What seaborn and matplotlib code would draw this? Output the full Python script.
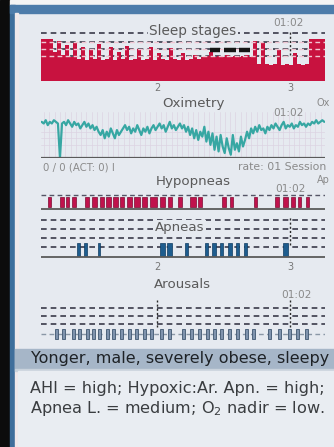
import numpy as np
import seaborn as sns
import matplotlib.pyplot as plt
from matplotlib.patches import Rectangle

# hypnogram: fill height per epoch (5 = wake ... ~2 = deep sleep)
hyp_levels = [4.9, 4.9, 4.9,
              3.4, 4.6, 3.0, 4.2, 2.8, 4.4,
              2.6, 4.0, 2.4, 3.6, 2.5, 4.3, 2.4, 2.6, 3.9, 2.4, 3.4,
              2.5, 4.1, 2.4, 2.6, 3.7, 2.4, 2.5, 4.0, 2.4, 3.2, 2.5, 2.4, 3.8, 2.5, 2.4, 3.3, 2.4, 2.5, 3.0, 2.6,
              2.8, 2.9, 3.4, 2.8, 2.9, 2.8, 3.0, 2.8, 2.9, 2.8, 2.9, 3.0, 2.8, 4.6,
              2.0, 4.4, 2.0, 1.9, 2.0, 3.6, 1.9, 2.0, 1.9, 3.2, 2.0, 1.9, 2.0,
              4.9, 4.9, 4.9, 4.9]
rem_start = [2.398, 2.504, 2.617]
rem_end = [2.474, 2.594, 2.699]

spo2 = [94, 93, 95, 92, 94, 93, 95, 94, 93,
        72, 93,
        94, 92, 95, 93, 91, 94, 92, 93, 90, 92, 94, 91, 93, 90, 92, 89, 91, 88,
        86, 89, 84, 88, 85, 90, 87, 84, 89, 86, 88, 90,
        92, 89, 91, 87, 90, 88, 92, 89, 86, 90, 88, 91, 87, 90, 92,
        89, 91, 93, 90, 92, 88, 91, 94, 90, 92, 89, 91, 93, 90, 92,
        88, 91, 86, 90, 84, 89, 83, 88, 85, 91, 82, 88,
        80, 87, 77, 85, 76, 86, 79, 75, 84, 78, 74, 86, 77, 81, 76, 85, 79, 83,
        88, 84, 90, 87, 91, 88, 92, 89, 90, 87, 91, 89,
        92, 90, 93, 91, 89, 92, 94, 90, 92, 91, 93, 90, 92, 91, 94, 92, 93, 91, 93, 92, 94, 93, 95, 93, 94, 95, 94]

hypop_start = [1.180, 1.271, 1.316, 1.361, 1.459, 1.511, 1.571, 1.617, 1.669, 1.722, 1.774, 1.827, 1.887, 1.947,
               2.023, 2.083, 2.158, 2.248, 2.308, 2.489, 2.549, 2.729, 2.887, 2.947, 3.008, 3.060, 3.120]
hypop_min = [1.4, 1.8, 1.4, 1.8, 1.8, 2.3, 1.8, 2.3, 2.3, 1.8, 2.3, 2.7, 2.3, 3.2,
             2.3, 1.8, 1.8, 2.7, 1.8, 1.8, 1.4, 1.4, 1.8, 2.3, 1.8, 1.4, 1.4]

apnea_start = [1.398, 1.451, 1.556, 2.023, 2.075, 2.211, 2.361, 2.414, 2.474, 2.534, 2.594, 2.654, 2.947]
apnea_min = [1.4, 1.4, 0.9, 2.3, 2.3, 1.4, 1.4, 1.8, 1.4, 1.8, 1.4, 1.4, 2.3]

arousal_start = [1.233, 1.286, 1.361, 1.406, 1.466, 1.511, 1.556, 1.617, 1.662, 1.722, 1.782, 1.835, 1.895, 1.947,
                 2.023, 2.083, 2.188, 2.248, 2.308, 2.368, 2.421, 2.474, 2.534, 2.594, 2.662, 2.714, 2.835, 2.910,
                 2.985, 3.045, 3.113]
arousal_min = [1.4] * len(arousal_start)

hour_ticks = [2, 3]
hour_labels = ["2", "3"]
profile = "Yonger, male, severely obese, sleepy"
summary1 = "AHI = high; Hypoxic:Ar. Apn. = high;"
summary2 = "Apnea L. = medium; O$_2$ nadir = low."

T0, T1 = 1.128, 3.263
W, H = 334, 447
PANEL = "#e6eaf0"
GREY = "#5a5a5a"
SMALL = "#8a8a8a"
DOTS = (0, (1.5, 1.5))

sns.set_theme(style="white")
plt.rcParams['font.family'] = ['DejaVu Sans']

fig = plt.figure(figsize=(W / 100, H / 100), dpi=100)
fig.patch.set_facecolor(PANEL)

bg = fig.add_axes([0, 0, 1, 1])
bg.set_xlim(0, W)
bg.set_ylim(H, 0)
bg.axis('off')
bg.add_patch(Rectangle((0, 0), 10, H, color="#0c0c0c"))
bg.add_patch(Rectangle((10, 0), W, 5, color="#f4f4f4"))
bg.add_patch(Rectangle((10, 5), 5, H, color="#3f6e9b"))
bg.add_patch(Rectangle((10, 5), W, 8, color="#4d7caa"))
bg.add_patch(Rectangle((15, 13), 3, H, color="#f0e8ea"))
bg.add_patch(Rectangle((15, 349), W, 20, color="#a6b6c8"))
bg.add_patch(Rectangle((15, 369), W, 1.5, color="#c9d2dc"))
bg.add_patch(Rectangle((18, 370.5), W, H, color="#e9edf2"))


def box(x0, y0, x1, y1):
    ax = fig.add_axes([x0 / W, 1 - y1 / H, (x1 - x0) / W, (y1 - y0) / H])
    ax.set_facecolor("none")
    ax.set_xlim(T0, T1)
    for s in ax.spines.values():
        s.set_visible(False)
    ax.set_yticks([])
    ax.set_xticks([])
    return ax


def label(ax, x, y, s, size=9.6, ha="center", color=GREY, box=False):
    kw = {}
    if box:
        kw["bbox"] = dict(facecolor=PANEL, edgecolor="none", pad=1)
    ax.text(x, y, s, transform=bg.transData, ha=ha, va="center", fontsize=size, color=color, zorder=10, **kw)


def dashes(ax, levels, color="#3a3a4a", lw=1.2, zorder=1):
    for lv in levels:
        ax.axhline(lv, color=color, lw=lw, dashes=(3.4, 2.4), zorder=zorder)


# sleep stages
ax = box(41, 30, 325, 81)
ax.set_ylim(0, 5.93)
t_ep = np.linspace(T0, T1, len(hyp_levels) + 1)
dashes(ax, [5.58, 4.53, 3.72, 2.9])
ax.fill_between(t_ep, 0, hyp_levels + [hyp_levels[-1]], step="post", color="#c8123f", lw=0, zorder=2)
dashes(ax, [4.53, 3.72, 2.9], color="#f1c6d2", lw=1.0, zorder=3)
ax.hlines([3.6] * len(rem_start), rem_start, rem_end, color="#151515", lw=3.2, zorder=4)
ax.vlines(3.0, 3.0, 5.7, color="#2a2a2a", lw=1, linestyles=DOTS, zorder=4)
ax.set_xticks(hour_ticks, hour_labels)
ax.tick_params(axis="x", length=0, pad=1.5, labelsize=7, labelcolor="#777777")
label(ax, 193, 31, "Sleep stages", size=9.8, box=True)
label(ax, 288, 23, "01:02", size=7.6, color=SMALL)

# oximetry
ax = box(41, 112, 325, 158)
ax.set_ylim(72, 100)
t_ox = np.linspace(T0 + 0.005, T1 - 0.005, len(spo2))
ax.set_xticks(np.arange(1.15, 3.26, 0.04), minor=True)
ax.set_yticks([80, 84, 88], minor=True)
ax.grid(which="minor", color="#dcd4e2", lw=0.5)
ax.tick_params(which="minor", length=0)
sns.lineplot(x=t_ox, y=spo2, ax=ax, color="#37a7a3", lw=1.6, zorder=3)
ax.axhline(72.3, color="#5a5a5a", lw=1.6, zorder=4)
ax.set_xlabel("")
ax.set_ylabel("")
label(ax, 193, 104, "Oximetry")
label(ax, 288, 113, "01:02", size=7.6, color=SMALL)
label(ax, 323, 103, "Ox", size=7, color=SMALL)

# hypopneas
label(bg, 43, 168, "0 / 0 (ACT: 0) I", size=7.3, ha="left", color=SMALL)
label(bg, 326, 167, "rate: 01 Session", size=7.8, ha="right", color=SMALL)
label(bg, 193, 181, "Hypopneas")
label(bg, 323, 180, "Ap", size=7, color=SMALL)
label(bg, 290, 189, "01:02", size=7.6, color=SMALL)
ax = box(41, 192, 325, 210)
ax.set_ylim(0, 1)
dashes(ax, [0.86], color="#555566", lw=1.0)
ax.bar(hypop_start, 0.55, width=np.array(hypop_min) / 60, bottom=0.17, align="edge",
       color="#c0124c", edgecolor="#7e0a30", lw=0.5, zorder=3)
ax.axhline(0.06, color="#5a5a5a", lw=1.3, zorder=4)

# apneas
ax = box(41, 215, 325, 258)
ax.set_ylim(0, 1)
dashes(ax, [0.884, 0.674, 0.465, 0.256])
ax.vlines(3.0, 0.3, 0.95, color="#2a2a2a", lw=1, linestyles=DOTS)
ax.bar(apnea_start, 0.3, width=np.array(apnea_min) / 60, bottom=0.047, align="edge",
       color="#1e5d8e", edgecolor="#0f3b60", lw=0.5, zorder=3)
ax.axhline(0.023, color="#5a5a5a", lw=1.3, zorder=4)
ax.set_xticks(hour_ticks, hour_labels)
ax.tick_params(axis="x", length=2, width=0.8, color="#555555", pad=1, labelsize=7, labelcolor="#777777")
label(ax, 180, 228, "Apneas", box=True)

# arousals
ax = box(41, 300, 325, 342)
ax.set_ylim(0, 1)
dashes(ax, [0.81, 0.619, 0.43])
dashes(ax, [0.2], color="#8a97a6", lw=1.0)
ax.vlines(hour_ticks, 0.35, 1.0, color="#2a2a2a", lw=1, linestyles=DOTS)
ax.bar(arousal_start, 0.24, width=np.array(arousal_min) / 60, bottom=0.07, align="edge",
       color="#7f93ad", edgecolor="#3f5670", lw=0.6, zorder=3)
label(ax, 182, 285, "Arousals")
label(ax, 296, 295, "01:02", size=7.6, color=SMALL)

# profile and summary
label(bg, 31, 359, profile, size=11.5, ha="left", color="#1e2226")
label(bg, 30, 389, summary1, size=11.6, ha="left", color="#3a3d40")
label(bg, 30, 408, summary2, size=11.6, ha="left", color="#3a3d40")

fig.savefig("out.png", dpi=100, facecolor=fig.get_facecolor())
